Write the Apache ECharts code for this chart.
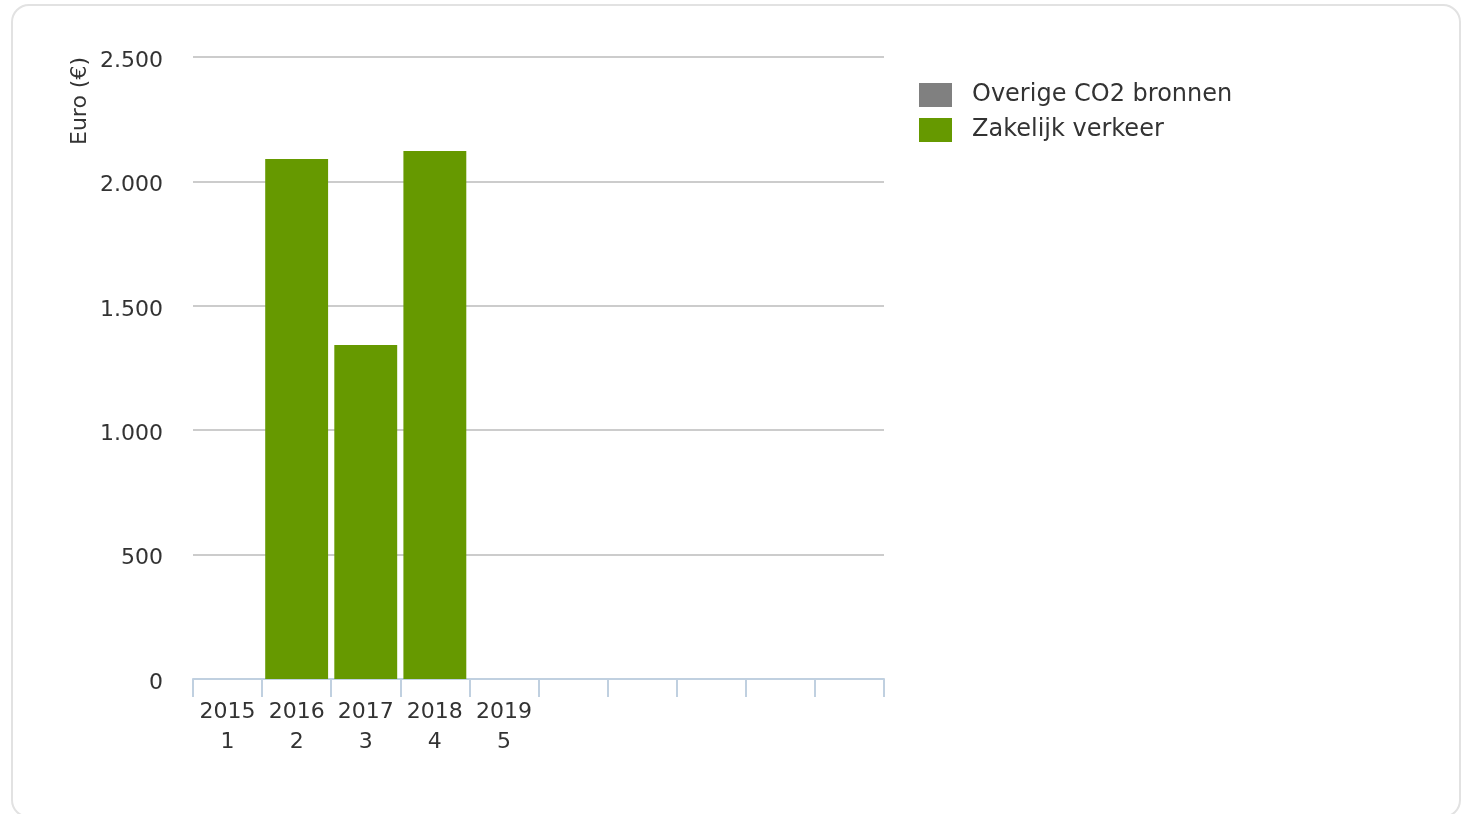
<!DOCTYPE html>
<html>
<head>
<meta charset="utf-8">
<script src="https://cdn.jsdelivr.net/npm/echarts@6/dist/echarts.min.js"></script>
<style>
html,body{margin:0;padding:0;background:#fff;overflow:hidden;}
#frame{position:absolute;left:11px;top:4px;width:1450px;height:814px;border:2px solid #e2e2e2;border-radius:18px;box-sizing:border-box;}
#chart{position:absolute;left:0;top:0;width:1461px;height:814px;}
</style>
</head>
<body>
<div id="frame"></div>
<div id="chart"></div>
<script>
const categories = ['2015','2016','2017','2018','2019','2020','2021','2022','2023','2024'];
const xTickLabels = ['2015\n1','2016\n2','2017\n3','2018\n4','2019\n5','','','','',''];
const seriesNames = ['Overige CO2 bronnen','Zakelijk verkeer'];
const overigeValues = [null,null,null,null,null,null,null,null,null,null];
const zakelijkValues = [null,2090,1342,2122,null,null,null,null,null,null];
const yTicks = [0,500,1000,1500,2000,2500];
const yAxisTitle = 'Euro (€)';

const fmt = v => String(v).replace(/\B(?=(\d{3})+(?!\d))/g, '.');
const chart = echarts.init(document.getElementById('chart'));
chart.setOption({
  animation:false,
  textStyle:{fontFamily:'DejaVu Sans'},
  grid:{left:193,right:577,top:57,bottom:135,containLabel:false},
  legend:{
    orient:'vertical',left:919,top:83,padding:0,itemWidth:33,itemHeight:24,itemGap:11,
    icon:'rect',
    textStyle:{fontSize:24,color:'#333',fontFamily:'DejaVu Sans',padding:[0,0,0,15]},
    data:seriesNames
  },
  xAxis:{
    type:'category',data:categories,
    axisLine:{lineStyle:{color:'#c0d0e0',width:2}},
    axisTick:{show:true,length:18,lineStyle:{color:'#c0d0e0',width:2}},
    axisLabel:{formatter:(v,i)=>xTickLabels[i],fontSize:22,color:'#333',lineHeight:30,margin:18,interval:0}
  },
  yAxis:{
    type:'value',min:yTicks[0],max:yTicks[yTicks.length-1],interval:500,
    axisLine:{show:false},axisTick:{show:false},
    axisLabel:{formatter:fmt,fontSize:22,color:'#333',margin:30,verticalAlign:'top',lineHeight:8},
    splitLine:{lineStyle:{color:'#cccccc',width:2}}
  },
  graphic:[{
    type:'text',x:80,y:101,rotation:Math.PI/2,
    style:{text:yAxisTitle,fontSize:22,fill:'#333',fontFamily:'DejaVu Sans',textAlign:'center',textVerticalAlign:'middle'}
  }],
  series:[
    {name:seriesNames[0],type:'bar',stack:'a',data:overigeValues,itemStyle:{color:'#808080'},barCategoryGap:'9%'},
    {name:seriesNames[1],type:'bar',stack:'a',data:zakelijkValues,itemStyle:{color:'#669900'},barCategoryGap:'9%'}
  ]
});
</script>
</body>
</html>
